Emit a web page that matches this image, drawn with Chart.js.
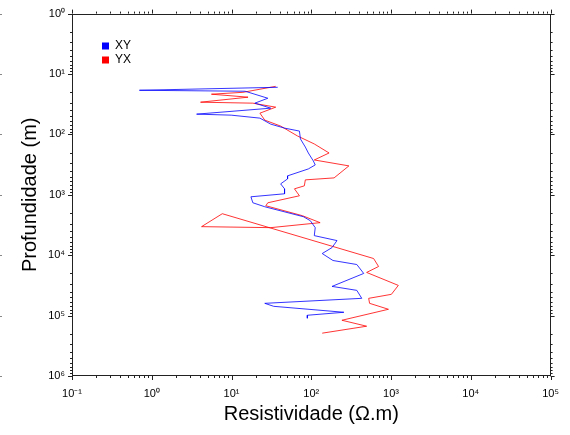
<!DOCTYPE html>
<html><head><meta charset="utf-8">
<script src="https://cdn.jsdelivr.net/npm/chart.js@4"></script>
<style>html,body{margin:0;padding:0;background:#fff}</style>
</head><body>
<canvas id="c" width="570" height="435"></canvas>
<script>
// ---- data ----
const seriesNames = ['XY', 'YX'];
const xyResistivity = [37.9, 0.70, 14.8, 28.5, 19.6, 31.0, 3.65, 9.9, 22.7, 31.0, 46.2, 71.0, 73.1, 84.2, 91.8, 106, 112, 91.8, 50.4, 50.4, 41.3, 46.2, 46.2, 17.5, 18.5, 26.1, 79.6, 97.1, 112, 109, 210, 182, 137, 187, 372, 454, 182, 372, 429, 26.1, 33.8, 256, 89.2, 89.2];
const xyDepth = [16.6, 18.6, 19.3, 25.2, 30.4, 36.8, 46.2, 48.0, 53.8, 67.6, 78.7, 88.1, 119, 162, 203, 275, 320, 373, 486, 545, 659, 796, 962, 1079, 1355, 1577, 2306, 2682, 3499, 4742, 5728, 7480, 9384, 12240, 14260, 20050, 32840, 38200, 51790, 62660, 70200, 88100, 98700, 110600];
const yxResistivity = [35.8, 13.9, 5.6, 16.1, 4.09, 18.5, 35.8, 22.7, 26.1, 41.3, 67.0, 109, 167, 109, 296, 193, 84.2, 81.8, 61.5, 71.0, 28.5, 26.9, 77.3, 129, 31.0, 4.21, 7.66, 604, 697, 494, 1233, 1009, 524, 538, 927, 242, 494, 137];
const yxDepth = [16.0, 20.1, 21.6, 24.2, 29.3, 30.4, 35.4, 44.5, 58.0, 72.9, 106, 144, 203, 265, 332, 525, 566, 711, 796, 1038, 1355, 1518, 2218, 2893, 3499, 3367, 2056, 11350, 15380, 19300, 31620, 44460, 51790, 62660, 78570, 119400, 149900, 195400];
const xTickValues = [0.1, 1, 10, 100, 1000, 10000, 100000];
const xTickLabels = ['10\u207B\u00B9', '10\u2070', '10\u00B9', '10\u00B2', '10\u00B3', '10\u2074', '10\u2075'];
const yTickValues = [1, 10, 100, 1000, 10000, 100000, 1000000];
const yTickLabels = ['10\u2070', '10\u00B9', '10\u00B2', '10\u00B3', '10\u2074', '10\u2075', '10\u2076'];
const xTitle = 'Resistividade (\u03A9.m)';
const yTitle = 'Profundidade (m)';

const FONT = "'Liberation Sans', Arial, Helvetica, sans-serif";
const colors = ['#0000ff', '#ff0000'];

function pts(xs, ys) { return xs.map((v, i) => ({ x: v, y: ys[i] })); }

const framePlugin = {
  id: 'frame',
  afterDraw(chart) {
    const ctx = chart.ctx, a = chart.chartArea;
    const xs = chart.scales.x, ys = chart.scales.y;
    ctx.save();
    ctx.strokeStyle = '#222';
    ctx.lineWidth = 1;
    ctx.strokeRect(Math.round(a.left) + 0.5, Math.round(a.top) + 0.5, Math.round(a.right - a.left) - 1, Math.round(a.bottom - a.top) - 1);
    ctx.beginPath();
    for (let d = -1; d <= 5; d++) {
      for (let m = 1; m <= 9; m++) {
        const v = m * Math.pow(10, d);
        if (v > 100000 * 1.0001) continue;
        const px = Math.round(xs.getPixelForValue(v)) + 0.5;
        const len = m === 1 ? 4 : 2;
        ctx.moveTo(px, a.bottom); ctx.lineTo(px, a.bottom + len);
        ctx.moveTo(px, a.top); ctx.lineTo(px, a.top - len);
      }
    }
    for (let d = 0; d <= 6; d++) {
      for (let m = 1; m <= 9; m++) {
        const v = m * Math.pow(10, d);
        if (v > 1000000 * 1.0001) continue;
        const py = Math.round(ys.getPixelForValue(v)) + 0.5;
        const len = m === 1 ? 4 : 2;
        ctx.moveTo(a.left, py); ctx.lineTo(a.left - len, py);
        ctx.moveTo(a.right, py); ctx.lineTo(a.right + len, py);
      }
    }
    ctx.stroke();
    // stray ticks of neighbouring panel at the far left edge
    ctx.strokeStyle = '#888';
    ctx.beginPath();
    yTickValues.forEach(v => {
      const py = Math.round(ys.getPixelForValue(v)) + 0.5;
      ctx.moveTo(0, py); ctx.lineTo(2, py);
    });
    ctx.stroke();
    // legend
    ctx.font = '12px ' + FONT;
    ctx.textBaseline = 'middle';
    ctx.textAlign = 'left';
    seriesNames.forEach((n, i) => {
      const y = 46 + i * 14;
      ctx.fillStyle = colors[i];
      ctx.fillRect(102, y - 3.5, 7, 7);
      ctx.fillStyle = '#000';
      ctx.fillText(n, 115, y);
    });
    ctx.restore();
  }
};

new Chart(document.getElementById('c'), {
  type: 'scatter',
  data: {
    datasets: [
      { label: seriesNames[0], data: pts(xyResistivity, xyDepth), showLine: true, borderColor: colors[0], backgroundColor: colors[0], borderWidth: 0.8, pointRadius: 0, tension: 0 },
      { label: seriesNames[1], data: pts(yxResistivity, yxDepth), showLine: true, borderColor: colors[1], backgroundColor: colors[1], borderWidth: 0.8, pointRadius: 0, tension: 0 }
    ]
  },
  options: {
    responsive: false,
    animation: false,
    devicePixelRatio: 1,
    layout: { padding: { left: 0, top: 12, right: 14, bottom: 0 } },
    plugins: { legend: { display: false }, tooltip: { enabled: false } },
    scales: {
      x: {
        type: 'logarithmic', min: 0.1, max: 100000,
        afterBuildTicks(s) { s.ticks = xTickValues.map(v => ({ value: v })); },
        afterFit(s) { s.height = 59; },
        ticks: { callback: (v, i) => xTickLabels[i], color: '#000', font: { family: FONT, size: 11 }, padding: 11, maxRotation: 0, autoSkip: false },
        grid: { display: false, drawTicks: false },
        border: { display: false },
        title: { display: true, text: xTitle, color: '#000', font: { family: FONT, size: 20 }, padding: { top: 0, bottom: 9 } }
      },
      y: {
        type: 'logarithmic', min: 1, max: 1000000, reverse: true,
        afterBuildTicks(s) { s.ticks = yTickValues.map(v => ({ value: v })); },
        afterFit(s) { s.width = 72; },
        ticks: { callback: (v, i) => yTickLabels[i], color: '#000', font: { family: FONT, size: 11 }, padding: 7, autoSkip: false },
        grid: { display: false, drawTicks: false },
        border: { display: false },
        title: { display: true, text: yTitle, color: '#000', font: { family: FONT, size: 20 }, padding: { top: 18, bottom: 0 } }
      }
    }
  },
  plugins: [framePlugin]
});
</script>
</body></html>
